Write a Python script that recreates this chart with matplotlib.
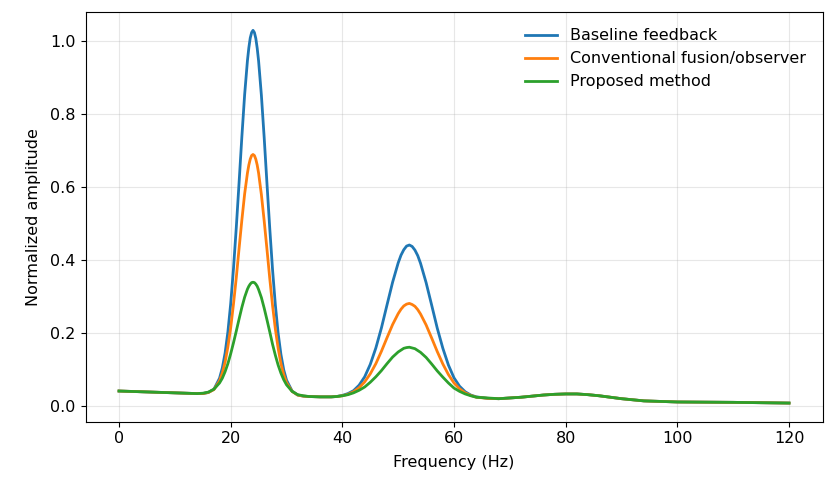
import matplotlib
matplotlib.use("Agg")
import matplotlib.pyplot as plt

plt.rcParams["font.size"] = 11.5

# frequency grid (Hz) the curves were read at
freq = ([0, 2, 4, 6, 8, 10, 12, 14, 15, 16, 17]
        + [18, 18.5, 19, 19.5, 20, 20.5, 21, 21.5, 22, 22.5,
           23, 23.25, 23.5, 23.75, 24, 24.25, 24.5, 24.75, 25, 25.5,
           26, 26.5, 27, 27.5, 28, 28.5, 29, 29.5, 30, 31, 32, 33, 34]
        + [36, 38, 39, 40, 41, 42, 43, 44, 45, 46,
           47, 48, 49, 50, 50.5, 51, 51.5, 52, 52.5, 53,
           53.5, 54, 55, 56, 57, 58, 59, 60, 61, 62, 63, 64, 66, 68]
        + [70, 72, 74, 76, 78, 80, 82, 84, 86, 88, 90, 92, 94, 96, 98,
           100, 105, 110, 115, 120])

low_band = [0.040, 0.039, 0.038, 0.037, 0.036, 0.035, 0.034, 0.033, 0.033, 0.036, 0.045]
tail = [0.021, 0.023, 0.026, 0.029, 0.031, 0.032, 0.032, 0.030, 0.027, 0.023, 0.019,
        0.016, 0.013, 0.012, 0.011, 0.010, 0.0095, 0.009, 0.008, 0.007]

baseline = (low_band
            + [0.075, 0.103, 0.144, 0.202, 0.279, 0.375, 0.487, 0.610, 0.736, 0.852,
               0.945, 0.980, 1.007, 1.022, 1.028, 1.022, 1.006, 0.979, 0.944, 0.850,
               0.734, 0.608, 0.485, 0.372, 0.276, 0.198, 0.140, 0.098, 0.070, 0.040,
               0.029, 0.026, 0.025]
            + [0.024, 0.024, 0.025, 0.028, 0.033, 0.041, 0.056, 0.079, 0.113, 0.158,
               0.213, 0.276, 0.338, 0.391, 0.412, 0.427, 0.437, 0.440, 0.436, 0.426,
               0.411, 0.390, 0.337, 0.275, 0.212, 0.157, 0.111, 0.076, 0.053, 0.038,
               0.029, 0.024, 0.020, 0.019]
            + tail)

conventional = (low_band[:-2] + [0.036, 0.044]
                + [0.068, 0.089, 0.119, 0.161, 0.213, 0.278, 0.350, 0.430, 0.508, 0.580,
                   0.637, 0.659, 0.675, 0.685, 0.688, 0.685, 0.675, 0.659, 0.637, 0.578,
                   0.506, 0.428, 0.348, 0.274, 0.210, 0.157, 0.115, 0.085, 0.063, 0.039,
                   0.029, 0.026, 0.025]
                + [0.024, 0.024, 0.025, 0.027, 0.031, 0.038, 0.049, 0.065, 0.087, 0.115,
                   0.149, 0.186, 0.222, 0.252, 0.264, 0.273, 0.278, 0.280, 0.277, 0.272,
                   0.263, 0.251, 0.221, 0.185, 0.148, 0.114, 0.085, 0.062, 0.046, 0.035,
                   0.028, 0.023, 0.020, 0.019]
                + tail)

proposed = (low_band[:-3] + [0.034, 0.037, 0.045]
            + [0.062, 0.075, 0.093, 0.115, 0.142, 0.172, 0.204, 0.237, 0.269, 0.297,
               0.319, 0.327, 0.333, 0.337, 0.338, 0.337, 0.333, 0.327, 0.318, 0.296,
               0.267, 0.235, 0.202, 0.168, 0.138, 0.111, 0.089, 0.071, 0.057, 0.039,
               0.030, 0.027, 0.025]
            + [0.024, 0.024, 0.025, 0.027, 0.030, 0.035, 0.042, 0.051, 0.064, 0.079,
               0.096, 0.115, 0.133, 0.147, 0.152, 0.157, 0.159, 0.160, 0.158, 0.156,
               0.151, 0.146, 0.132, 0.114, 0.095, 0.078, 0.062, 0.048, 0.039, 0.032,
               0.027, 0.023, 0.021, 0.019]
            + tail)

fig = plt.figure(figsize=(8.27, 4.84), dpi=100)
ax = fig.add_axes([0.1034, 0.1287, 0.8912, 0.8471])

ax.plot(freq, baseline, color="#1f77b4", lw=2, label="Baseline feedback")
ax.plot(freq, conventional, color="#ff7f0e", lw=2, label="Conventional fusion/observer")
ax.plot(freq, proposed, color="#2ca02c", lw=2, label="Proposed method")

ax.set_xlabel("Frequency (Hz)", labelpad=6.5)
ax.set_ylabel("Normalized amplitude", labelpad=7)
ax.grid(True, alpha=0.3)
ax.legend(loc="upper right", frameon=False, borderaxespad=0.65)

fig.savefig("out.png", dpi=100)
